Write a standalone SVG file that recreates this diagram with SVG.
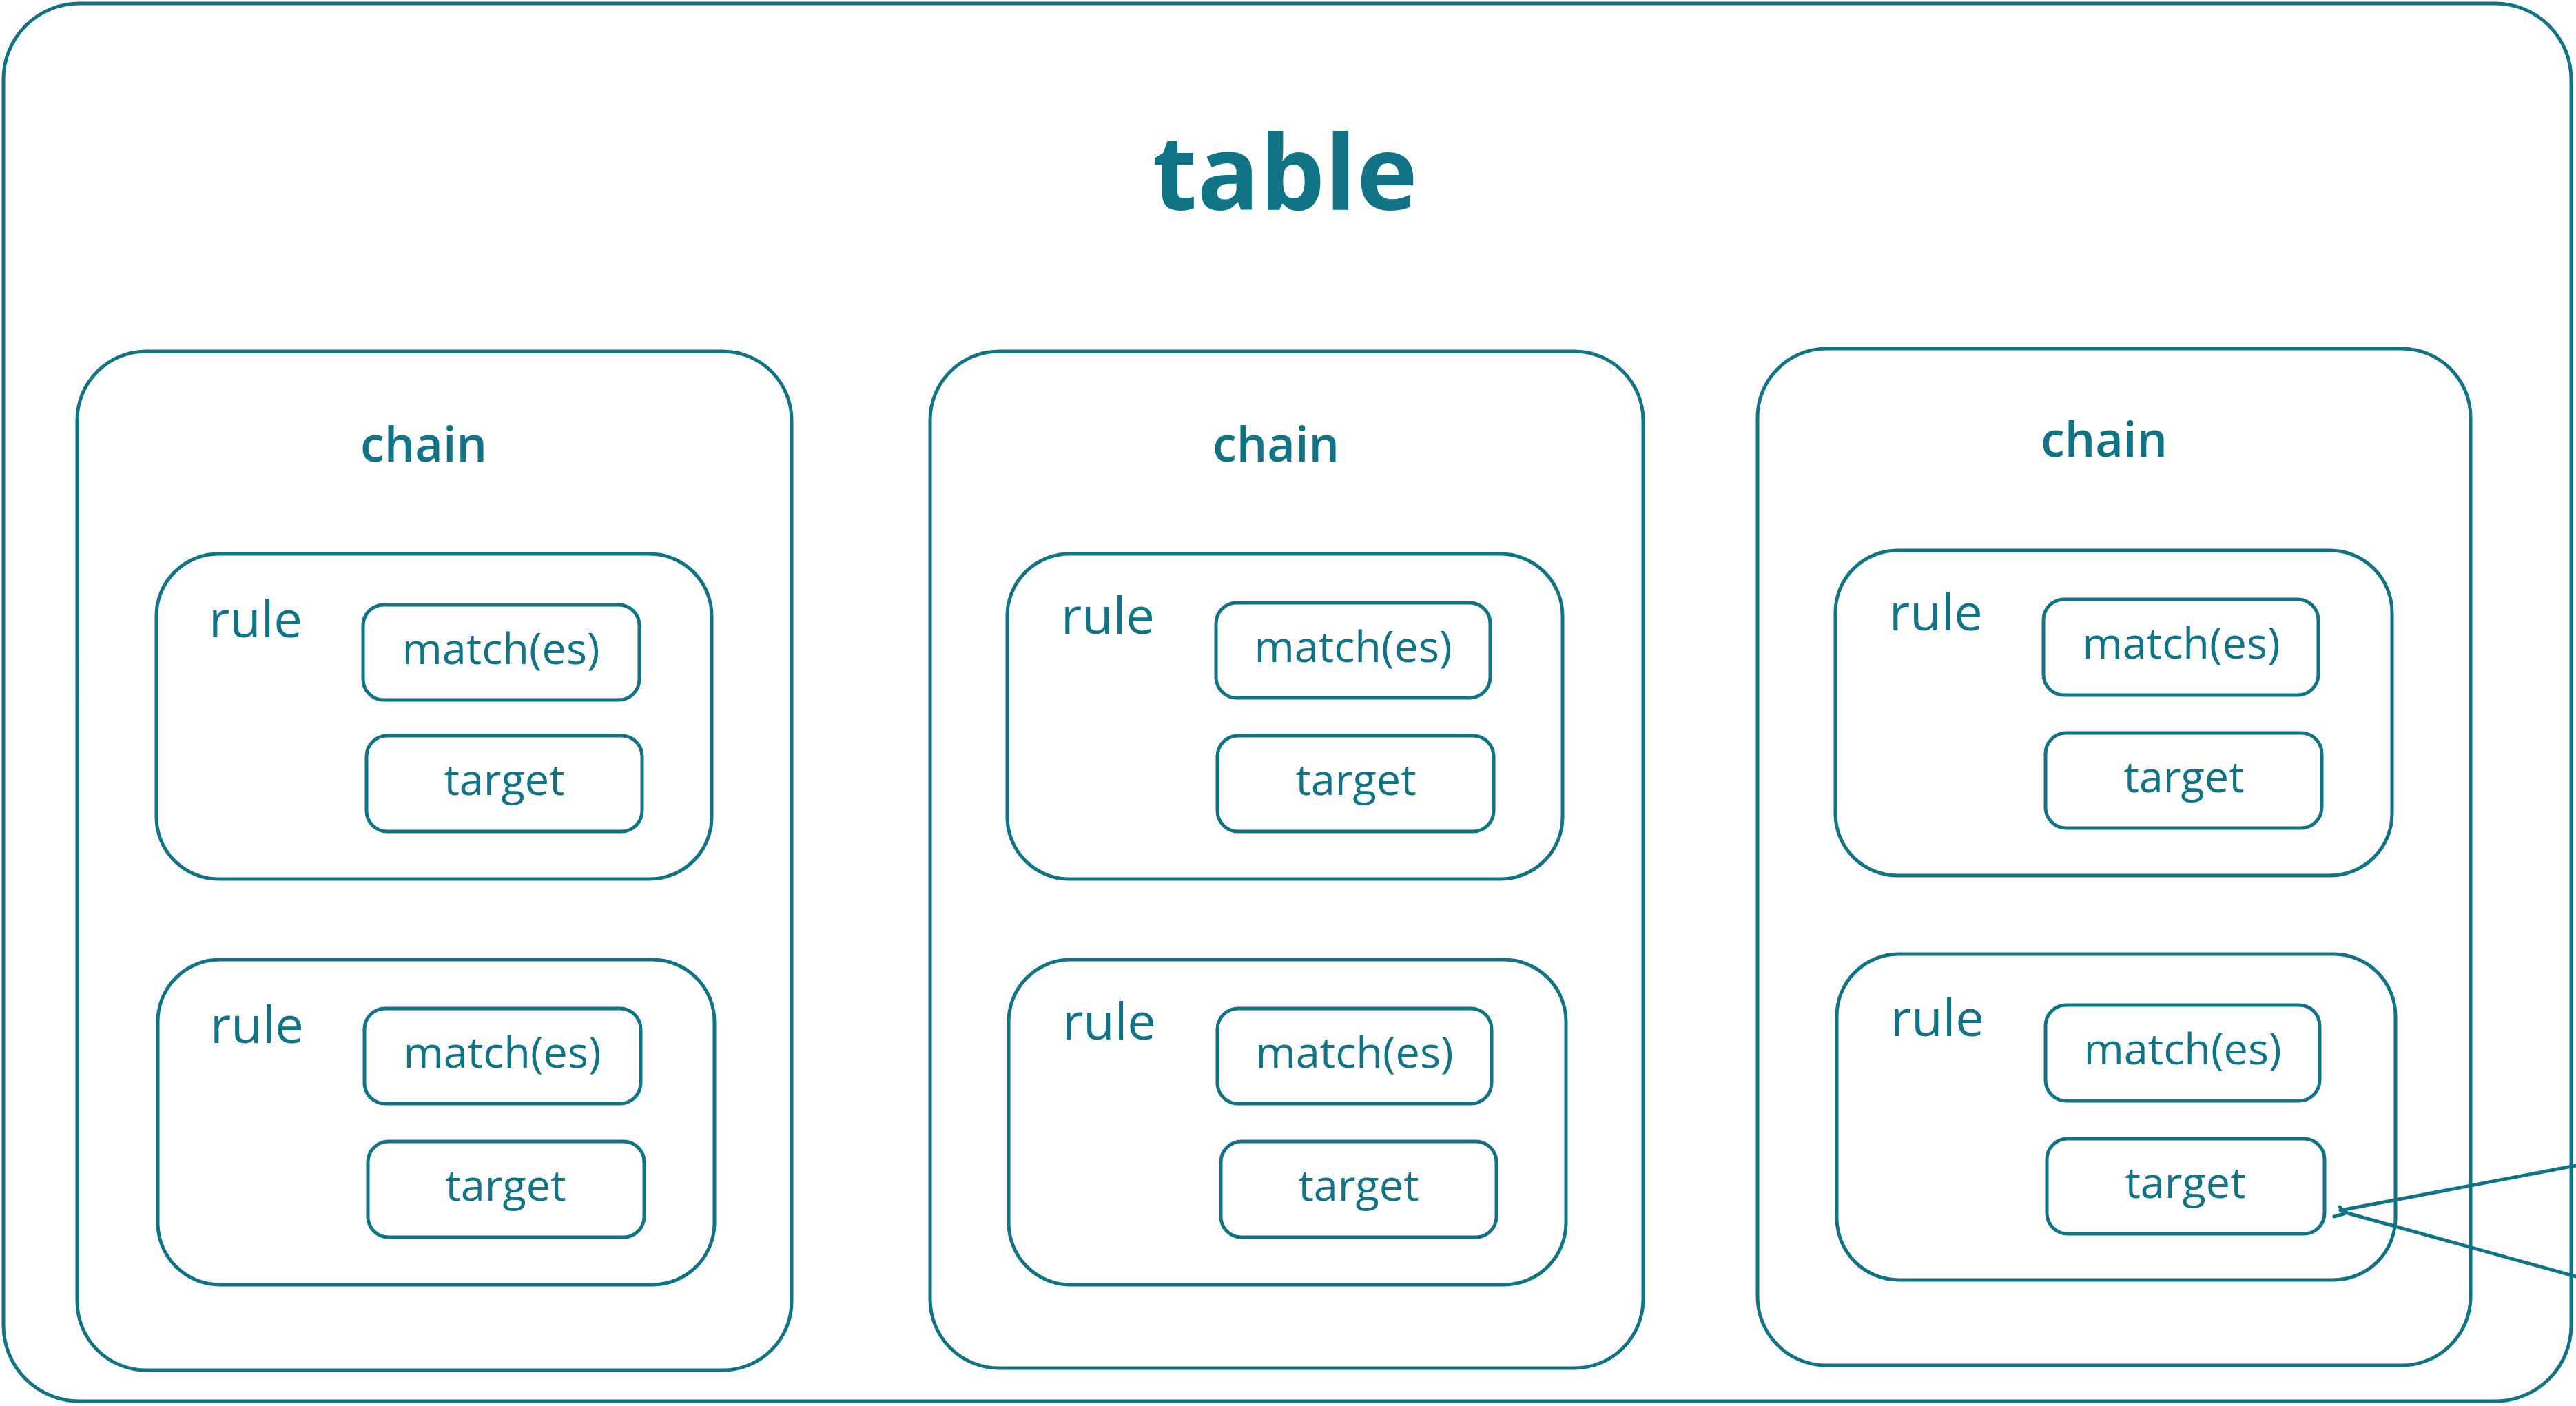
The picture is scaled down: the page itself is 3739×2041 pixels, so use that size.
<svg xmlns="http://www.w3.org/2000/svg" width="3739" height="2041" viewBox="0 0 3739 2041">
  <style>
    .frame { fill: #ffffff; stroke: #117386; stroke-width: 5; }
    .box { fill: none; stroke: #117386; stroke-width: 5; }
    .wire { fill: none; stroke: #117386; stroke-width: 5; stroke-linecap: round; }
    text { fill: #117386; font-family: "Open Sans", "Liberation Sans", sans-serif; }
    .title { font-size: 150px; font-weight: 700; text-anchor: middle; }
    .chain { font-size: 70px; font-weight: 600; text-anchor: middle; }
    .rule { font-size: 74px; font-weight: 500; }
    .item { font-size: 63px; font-weight: 500; text-anchor: middle; }
  </style>

  <rect width="3739" height="2041" fill="#ffffff"/>

  <!-- table -->
  <g id="table">
    <rect class="frame" x="5" y="5" width="3727" height="2029" rx="110" ry="110"/>
    <text class="title" x="1865" y="305">table</text>
  </g>

  <!-- chain 1 -->
  <g id="chain1">
    <rect class="box" x="112" y="510" width="1037" height="1479" rx="100" ry="100"/>
    <text class="chain" x="615" y="670">chain</text>
  </g>
  <g id="chain1-rule1">
    <rect class="box" x="227" y="804" width="806" height="472" rx="90" ry="90"/>
    <text class="rule" x="303" y="925">rule</text>
    <g id="chain1-rule1-match">
      <rect class="box" x="527" y="878" width="401" height="138" rx="30" ry="30"/>
      <text class="item" x="727" y="964">match(es)</text>
    </g>
    <g id="chain1-rule1-target">
      <rect class="box" x="532" y="1068" width="400" height="139" rx="30" ry="30"/>
      <text class="item" x="732" y="1154">target</text>
    </g>
  </g>
  <g id="chain1-rule2">
    <rect class="box" x="229" y="1393" width="808" height="472" rx="90" ry="90"/>
    <text class="rule" x="305" y="1514">rule</text>
    <g id="chain1-rule2-match">
      <rect class="box" x="529" y="1464" width="401" height="138" rx="30" ry="30"/>
      <text class="item" x="729" y="1550">match(es)</text>
    </g>
    <g id="chain1-rule2-target">
      <rect class="box" x="534" y="1657" width="401" height="139" rx="30" ry="30"/>
      <text class="item" x="734" y="1743">target</text>
    </g>
  </g>

  <!-- chain 2 -->
  <g id="chain2">
    <rect class="box" x="1350" y="510" width="1035" height="1476" rx="100" ry="100"/>
    <text class="chain" x="1852" y="670">chain</text>
  </g>
  <g id="chain2-rule1">
    <rect class="box" x="1462" y="804" width="806" height="472" rx="90" ry="90"/>
    <text class="rule" x="1540" y="920">rule</text>
    <g id="chain2-rule1-match">
      <rect class="box" x="1765" y="875" width="398" height="138" rx="30" ry="30"/>
      <text class="item" x="1964" y="961">match(es)</text>
    </g>
    <g id="chain2-rule1-target">
      <rect class="box" x="1767" y="1068" width="401" height="139" rx="30" ry="30"/>
      <text class="item" x="1968" y="1154">target</text>
    </g>
  </g>
  <g id="chain2-rule2">
    <rect class="box" x="1464" y="1393" width="809" height="472" rx="90" ry="90"/>
    <text class="rule" x="1542" y="1509">rule</text>
    <g id="chain2-rule2-match">
      <rect class="box" x="1767" y="1464" width="398" height="138" rx="30" ry="30"/>
      <text class="item" x="1966" y="1550">match(es)</text>
    </g>
    <g id="chain2-rule2-target">
      <rect class="box" x="1772" y="1657" width="400" height="139" rx="30" ry="30"/>
      <text class="item" x="1972" y="1743">target</text>
    </g>
  </g>

  <!-- chain 3 -->
  <g id="chain3">
    <rect class="box" x="2551" y="506" width="1035" height="1476" rx="100" ry="100"/>
    <text class="chain" x="3054" y="663">chain</text>
  </g>
  <g id="chain3-rule1">
    <rect class="box" x="2664" y="799" width="808" height="472" rx="90" ry="90"/>
    <text class="rule" x="2742" y="915">rule</text>
    <g id="chain3-rule1-match">
      <rect class="box" x="2966" y="870" width="399" height="139" rx="30" ry="30"/>
      <text class="item" x="3166" y="956">match(es)</text>
    </g>
    <g id="chain3-rule1-target">
      <rect class="box" x="2969" y="1064" width="401" height="138" rx="30" ry="30"/>
      <text class="item" x="3170" y="1150">target</text>
    </g>
  </g>
  <g id="chain3-rule2">
    <rect class="box" x="2666" y="1385" width="811" height="473" rx="90" ry="90"/>
    <text class="rule" x="2744" y="1504">rule</text>
    <g id="chain3-rule2-match">
      <rect class="box" x="2969" y="1459" width="398" height="139" rx="30" ry="30"/>
      <text class="item" x="3168" y="1545">match(es)</text>
    </g>
    <g id="chain3-rule2-target">
      <rect class="box" x="2971" y="1653" width="403" height="138" rx="30" ry="30"/>
      <text class="item" x="3172" y="1739">target</text>
    </g>
  </g>

  <!-- connectors entering from the right edge -->
  <g id="connectors">
    <path class="wire" d="M3739 1692 L3397 1757"/>
    <path class="wire" d="M3739 1853 L3400 1759"/>
    <path class="wire" d="M3388 1766 L3402 1762 M3396 1752 L3402 1758"/>
  </g>
</svg>
